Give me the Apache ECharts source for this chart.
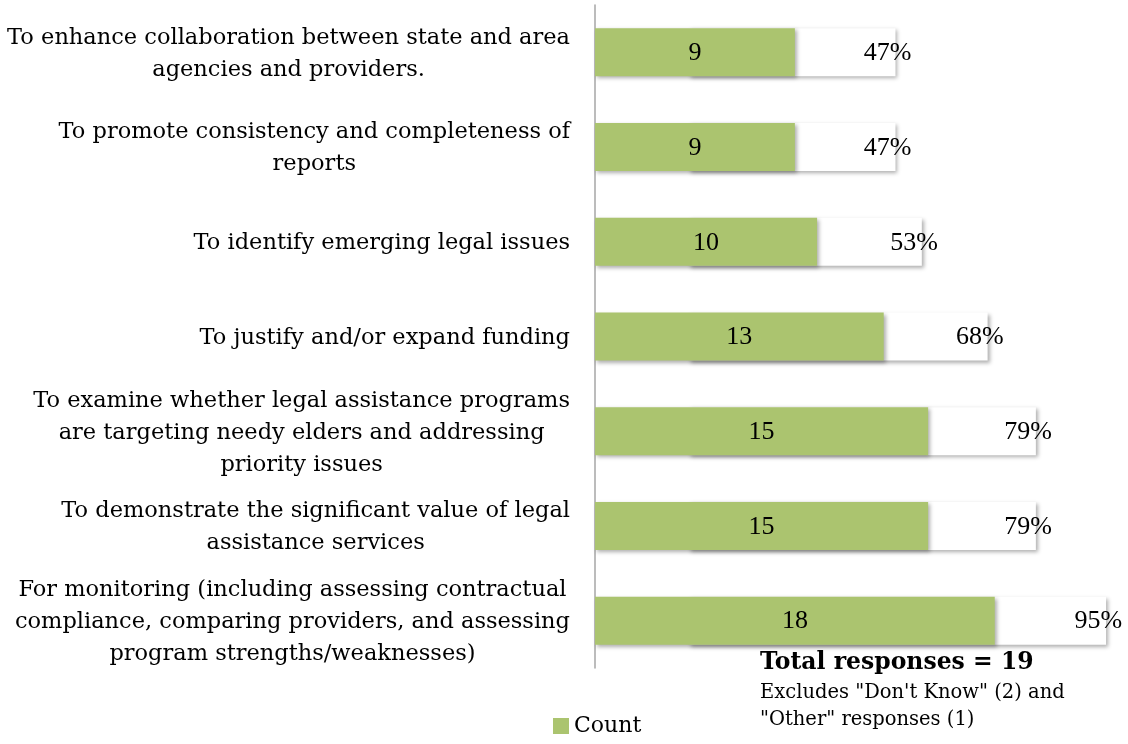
<!DOCTYPE html>
<html>
<head>
<meta charset="utf-8">
<script src="https://cdn.jsdelivr.net/npm/echarts@6/dist/echarts.min.js"></script>
<style>
  html, body { margin: 0; padding: 0; background: #ffffff; }
  #chart { width: 1128px; height: 744px; }
</style>
</head>
<body>
<div id="chart"></div>
<script>
// Survey purposes, top to bottom
const categories = [
  'To enhance collaboration between state and area\nagencies and providers.',
  'To promote consistency and completeness of\nreports',
  'To identify emerging legal issues',
  'To justify and/or expand funding',
  'To examine whether legal assistance programs\nare targeting needy elders and addressing\npriority issues',
  'To demonstrate the significant value of legal\nassistance services',
  'For monitoring (including assessing contractual\ncompliance, comparing providers, and assessing\nprogram strengths/weaknesses)'
];
// Number of respondents choosing each purpose
const counts = [9, 9, 10, 13, 15, 15, 18];
// Share of total responses (%)
const percents = [47, 47, 53, 68, 79, 79, 95];

const FONT = '"DejaVu Serif", "Liberation Serif", serif';
const NUM_FONT = '"Liberation Serif", "DejaVu Serif", serif';
const GREEN = '#abc46f';
const SHADOW = {
  shadowColor: 'rgba(0,0,0,0.32)',
  shadowBlur: 4,
  shadowOffsetX: 2,
  shadowOffsetY: 2
};

const chart = echarts.init(document.getElementById('chart'));

chart.setOption({
  backgroundColor: '#ffffff',
  animation: false,
  grid: { left: 595, right: 0, top: 5, bottom: 76, containLabel: false },
  legend: {
    data: ['Count'],
    left: 548,
    bottom: 2,
    itemWidth: 16,
    itemHeight: 16,
    itemGap: 6,
    icon: 'rect',
    textStyle: { fontFamily: FONT, fontSize: 22, color: '#000' }
  },
  xAxis: [
    { type: 'value', min: 0, max: 24, show: false },
    { type: 'value', min: -21.5, max: 100, show: false }
  ],
  yAxis: {
    type: 'category',
    inverse: true,
    data: categories,
    axisLine: { show: true, lineStyle: { color: '#a6a6a6', width: 1.5 } },
    axisTick: { show: false },
    splitLine: { show: false },
    axisLabel: {
      margin: 25,
      align: 'right',
      fontFamily: FONT,
      fontSize: 22.5,
      color: '#000',
      lineHeight: 32,
      formatter: function (v) {
        return v.split('\n').map(function (s) { return '{c|' + s + '}'; }).join('\n');
      },
      rich: {
        c: { align: 'center', fontFamily: FONT, fontSize: 22.5, lineHeight: 32, color: '#000', padding: [3, 0, 0, 0] }
      }
    }
  },
  series: [
    {
      name: 'Percent',
      type: 'bar',
      xAxisIndex: 1,
      data: percents,
      barWidth: 48,
      barGap: '-100%',
      itemStyle: Object.assign({ color: '#ffffff' }, SHADOW),
      label: {
        show: true,
        position: 'insideRight',
        offset: [21, 1],
        formatter: '{c}%',
        fontFamily: NUM_FONT,
        fontSize: 26,
        color: '#000'
      },
      z: 1
    },
    {
      name: 'Count',
      type: 'bar',
      xAxisIndex: 0,
      data: counts,
      barWidth: 48,
      barGap: '-100%',
      itemStyle: Object.assign({ color: GREEN }, SHADOW),
      label: {
        show: true,
        position: 'inside',
        offset: [0, 1],
        fontFamily: NUM_FONT,
        fontSize: 26,
        color: '#000'
      },
      z: 2
    }
  ],
  graphic: [
    {
      type: 'text',
      left: 760,
      top: 651,
      style: { text: 'Total responses = 19', font: 'bold 23.5px ' + FONT, fill: '#000' }
    },
    {
      type: 'text',
      left: 760,
      top: 679,
      style: {
        text: 'Excludes "Don\'t Know" (2) and\n"Other" responses (1)',
        font: '19.5px ' + FONT,
        lineHeight: 27,
        fill: '#000'
      }
    }
  ]
});
</script>
</body>
</html>
